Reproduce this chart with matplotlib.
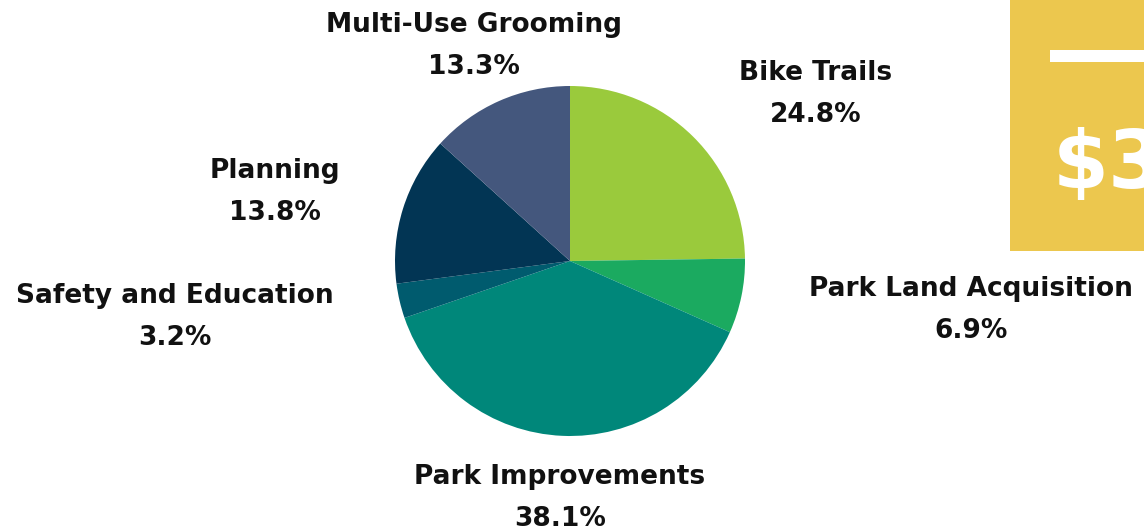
import matplotlib
matplotlib.use('Agg')
import matplotlib.pyplot as plt
from matplotlib.patches import Rectangle

# data
labels = ['Bike Trails', 'Park Land Acquisition', 'Park Improvements',
          'Safety and Education', 'Planning', 'Multi-Use Grooming']
shares = [24.8, 6.9, 38.1, 3.2, 13.8, 13.3]
colors = ['#9aca3c', '#1baa60', '#00877a', '#005b6e', '#023554', '#44577d']

# label centres in pixel coords (top-left origin)
label_pos = [(816, 73), (971, 289), (560, 477), (175, 296), (275, 171), (474, 25)]

H = 532
fig = plt.figure(figsize=(11.44, 5.32), dpi=100)
ax = fig.add_axes([0, 0, 1, 1])

ax.pie(shares, colors=colors, startangle=90, counterclock=False,
       center=(570, H - 261), radius=175, wedgeprops={'linewidth': 0})

font = 'DejaVu Sans'
for lab, val, (x, y) in zip(labels, shares, label_pos):
    ax.text(x, H - y, lab, ha='center', va='center', fontsize=19,
            fontweight='bold', family=font, color='#111111')
    ax.text(x, H - y - 42, f'{val}%', ha='center', va='center', fontsize=19,
            fontweight='bold', family=font, color='#111111')

# gold box on the right, cut off by the edge
ax.add_patch(Rectangle((1010, H - 251), 200, 251, color='#ecc74e', lw=0))
ax.add_patch(Rectangle((1050, H - 62), 150, 12, color='white', lw=0))
ax.text(1053, H - 188, '$3', ha='left', va='baseline', fontsize=58,
        fontweight='bold', family=font, color='white')

ax.set_xlim(0, 1144)
ax.set_ylim(0, H)
ax.set_aspect('equal')
ax.axis('off')

fig.savefig('out.png', dpi=100)
